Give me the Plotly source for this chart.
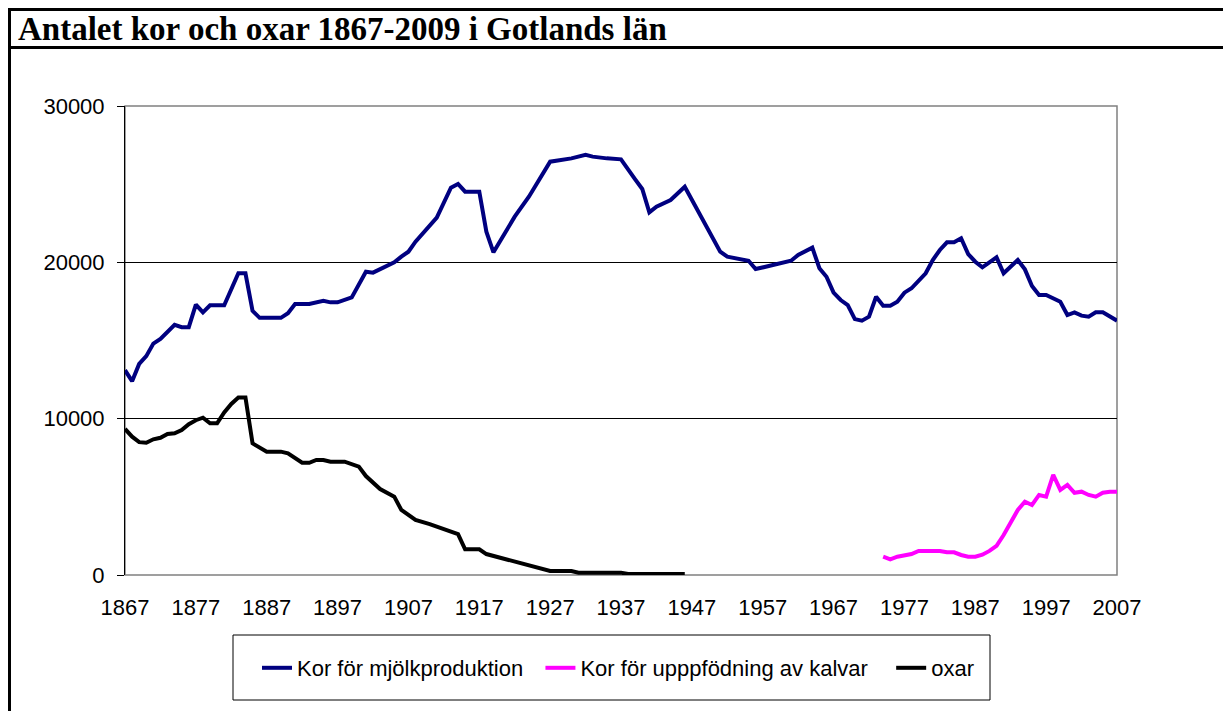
import plotly.graph_objects as go

# ---------------- data ----------------
years_mjolk = [1867, 1868, 1869, 1870, 1871, 1872, 1874, 1875, 1876, 1877, 1878, 1879, 1881, 1882,
               1883, 1884, 1885, 1886, 1889, 1890, 1891, 1893, 1895, 1896, 1897, 1899, 1900, 1901,
               1902, 1903, 1905, 1906, 1907, 1908, 1909, 1911, 1913, 1914, 1915, 1917, 1918, 1919,
               1922, 1924, 1927, 1930, 1932, 1933, 1935, 1937, 1939, 1940, 1941, 1942, 1944, 1946,
               1951, 1952, 1955, 1956, 1958, 1959, 1961, 1962, 1964, 1965, 1966, 1967, 1968, 1969,
               1970, 1971, 1972, 1973, 1974, 1975, 1976, 1977, 1978, 1980, 1981, 1982, 1983, 1984,
               1985, 1986, 1987, 1988, 1990, 1991, 1993, 1994, 1995, 1996, 1997, 1999, 2000, 2001,
               2002, 2003, 2004, 2005, 2007]
kor_mjolk = [13100, 12400, 13500, 14000, 14800, 15100, 16000, 15850, 15850, 17300, 16800, 17250, 17250, 18300,
             19300, 19300, 16900, 16450, 16450, 16750, 17330, 17330, 17540, 17440, 17440, 17760, 18650, 19400,
             19340, 19550, 20000, 20360, 20680, 21320, 21860, 22860, 24780, 25010, 24520, 24520, 21960, 20640,
             22920, 24200, 26440, 26650, 26870, 26760, 26650, 26590, 25310, 24690, 23200, 23560, 23990, 24840,
             20680, 20360, 20100, 19570, 19780, 19890, 20100, 20470, 20940, 19620, 19080, 18060, 17590, 17270,
             16370, 16270, 16520, 17800, 17230, 17230, 17480, 18060, 18340, 19300, 20150, 20790, 21280, 21280,
             21540, 20530, 20040, 19680, 20320, 19300, 20150, 19550, 18490, 17910, 17910, 17480, 16630, 16800,
             16590, 16520, 16800, 16800, 16270]

years_kalv = [1974, 1975, 1976, 1978, 1979, 1982, 1983, 1984, 1985, 1986, 1987, 1988, 1989, 1990,
              1991, 1992, 1993, 1994, 1995, 1996, 1997, 1998, 1999, 2000, 2001, 2002, 2003, 2004,
              2005, 2006, 2007]
kor_kalv = [1170, 1000, 1170, 1340, 1540, 1540, 1450, 1450, 1280, 1170, 1170, 1300, 1540, 1870,
            2560, 3410, 4160, 4690, 4480, 5120, 5010, 6400, 5440, 5760, 5260, 5330, 5120, 5010,
            5260, 5330, 5330]

years_oxar = [1867, 1868, 1869, 1870, 1871, 1872, 1873, 1874, 1875, 1876, 1877, 1878, 1879, 1880,
              1881, 1882, 1883, 1884, 1885, 1887, 1889, 1890, 1892, 1893, 1894, 1895, 1896, 1898,
              1900, 1901, 1903, 1905, 1906, 1908, 1910, 1912, 1913, 1914, 1915, 1917, 1918, 1919,
              1921, 1922, 1924, 1925, 1927, 1930, 1931, 1937, 1938, 1946]
oxar = [9340, 8850, 8500, 8460, 8680, 8780, 9020, 9060, 9270, 9650, 9900, 10060, 9700, 9700,
        10400, 10940, 11350, 11350, 8420, 7890, 7890, 7780, 7180, 7180, 7360, 7360, 7250, 7250,
        6930, 6330, 5500, 5010, 4160, 3520, 3260, 2940, 2830, 2620, 1640, 1640, 1340, 1220,
        1000, 830, 600, 470, 260, 260, 150, 150, 60, 60]

x_ticks = list(range(1867, 2008, 10))
y_ticks = [0, 10000, 20000, 30000]
title_text = "Antalet kor och oxar 1867-2009 i Gotlands län"
names = ["Kor för mjölkproduktion", "Kor för upppfödning av kalvar", "oxar"]

# ---------------- figure ----------------
OFF = 8                      # page body margin
W, H = 1231 - OFF, 711 - OFF  # figure size
L, R, T, B = 125, 1117, 106, 575  # plot area in page pixels


def px(xp):
    return (xp - L) / (R - L)


def py(yp):
    return (B - yp) / (B - T)


NB = "\u00a0"

fig = go.Figure()
fig.add_trace(go.Scatter(x=years_mjolk, y=kor_mjolk, mode="lines", name=names[0] + NB * 2,
                         line=dict(color="#000080", width=4)))
fig.add_trace(go.Scatter(x=years_kalv, y=kor_kalv, mode="lines", name=names[1] + NB * 3,
                         line=dict(color="#FF00FF", width=4)))
fig.add_trace(go.Scatter(x=years_oxar, y=oxar, mode="lines", name=names[2],
                         line=dict(color="#000000", width=4)))

font_sans = "Liberation Sans, Arial, sans-serif"

fig.update_layout(
    width=W, height=H,
    margin=dict(l=L - OFF, r=W - (R - OFF), t=T - OFF, b=H - (B - OFF), pad=0),
    paper_bgcolor="white", plot_bgcolor="white",
    font=dict(family=font_sans, size=22, color="black"),
    showlegend=True,
    legend=dict(orientation="h", x=px(257), y=py(668), xanchor="left", yanchor="middle",
                bgcolor="rgba(0,0,0,0)", borderwidth=0, font=dict(size=22, family=font_sans),
                itemwidth=30, traceorder="normal"),
    xaxis=dict(range=[1867, 2007], tickvals=x_ticks, ticktext=[str(v) for v in x_ticks],
               showgrid=False, zeroline=False, showline=False, ticks="",
               ticklabelstandoff=17, tickfont=dict(size=22)),
    yaxis=dict(range=[0, 30000], tickvals=y_ticks, ticktext=[str(v) for v in y_ticks],
               showgrid=True, gridcolor="black", gridwidth=1, zeroline=False,
               showline=True, linecolor="black", linewidth=1,
               ticks="outside", ticklen=7, tickcolor="black", tickwidth=1,
               ticklabelstandoff=8, tickfont=dict(size=22)),
)

shapes = [
    # plot-area border (gray)
    dict(type="rect", xref="paper", yref="paper", x0=0, x1=1, y0=0, y1=1,
         line=dict(color="#808080", width=1.5), layer="below"),
    # outer frame
    dict(type="rect", xref="paper", yref="paper", x0=px(OFF + 1.5), x1=px(1260), y0=py(760), y1=py(OFF + 1.5),
         line=dict(color="black", width=3)),
    # title separator
    dict(type="line", xref="paper", yref="paper", x0=px(OFF), x1=px(1260), y0=py(47.5), y1=py(47.5),
         line=dict(color="black", width=3)),
    # legend box
    dict(type="rect", xref="paper", yref="paper", x0=px(233), x1=px(990), y0=py(700), y1=py(635),
         line=dict(color="black", width=1)),
]
fig.update_layout(shapes=shapes)

fig.add_annotation(text="<b>" + title_text + "</b>", xref="paper", yref="paper",
                   x=px(16), y=py(29), xanchor="left", yanchor="middle", showarrow=False,
                   font=dict(family="Liberation Serif, Times New Roman, serif", size=33, color="black"))

fig.write_html("out.html")
